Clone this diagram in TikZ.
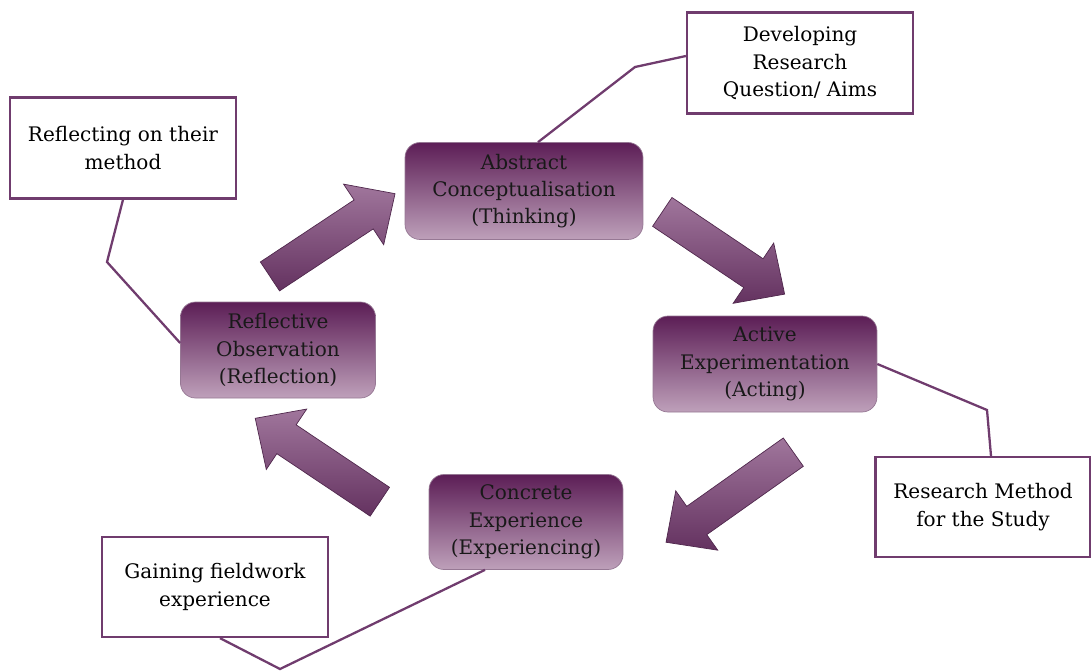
\documentclass[tikz,border=0pt]{standalone}
\usepackage{fontspec}
\setmainfont{DejaVu Serif}
\usetikzlibrary{shapes.arrows}

\definecolor{cycletop}{RGB}{92,30,86}
\definecolor{cyclebottom}{RGB}{190,160,186}
\definecolor{cycleedge}{RGB}{150,120,148}
\definecolor{linkpurple}{RGB}{112,60,110}
\definecolor{arrowdark}{RGB}{100,50,96}
\definecolor{arrowlight}{RGB}{160,118,156}

\tikzset{
  cycle/.style={draw=cycleedge, rounded corners=0.3cm, top color=cycletop, bottom color=cyclebottom,
    align=center, text=black!90, font=\fontsize{11.4}{15.5}\selectfont, inner sep=2pt},
  note/.style={draw=linkpurple, line width=1.3pt, fill=white, align=center,
    font=\fontsize{11.4}{15.5}\selectfont, minimum height=2.02cm, minimum width=4.52cm},
  link/.style={draw=linkpurple, line width=1.3pt},
  bigarrow/.style={single arrow, draw=arrowdark!80!black, line width=0.4pt, top color=arrowlight, bottom color=arrowdark,
    inner xsep=0pt, inner ysep=0.34cm, single arrow head extend=0.38cm, single arrow tip angle=88}
}

\begin{document}
\begin{tikzpicture}[x=0.02cm,y=-0.02cm]
  \useasboundingbox (0,0) rectangle (1091,670);

  % the four stages
  \node[cycle, minimum width=4.76cm, minimum height=1.94cm] (abs) at (524,191) {Abstract\\Conceptualisation\\(Thinking)};
  \node[cycle, minimum width=4.48cm, minimum height=1.92cm] (act) at (765,364) {Active\\Experimentation\\(Acting)};
  \node[cycle, minimum width=3.88cm, minimum height=1.90cm] (con) at (526,522) {Concrete\\Experience\\(Experiencing)};
  \node[cycle, minimum width=3.90cm, minimum height=1.92cm] (rfo) at (278,350) {Reflective\\Observation\\(Reflection)};

  % arrows between the stages
  \node[bigarrow, minimum height=3.0cm, rotate=33.5] (a1) at (325,240) {};
  \node[bigarrow, minimum height=2.95cm, rotate=-33.9] (a2) at (716,248) {};
  \node[bigarrow, minimum height=3.12cm, rotate=-144.7] (a3) at (737,492) {};
  \node[bigarrow, minimum height=3.0cm, rotate=146.2] (a4) at (325,465) {};

  % notes
  \node[note] (dev) at (800,63) {Developing\\Research\\Question/ Aims};
  \node[note] (rfl) at (123,148) {Reflecting on their\\method};
  \node[note, minimum width=4.30cm, minimum height=2.0cm] (res) at (983,507) {Research Method\\for the Study};
  \node[note, minimum height=2.0cm] (gain) at (215,587) {Gaining fieldwork\\experience};

  % links
  \coordinate (k1) at (635,67);
  \coordinate (k2) at (107,262);
  \coordinate (k3) at (987,410);
  \coordinate (k4) at (280,669);
  \draw[link] ([xshift=0.28cm]abs.north) -- (k1) -- ([yshift=0.14cm]dev.west);
  \draw[link] (rfl.south) -- (k2) -- ([yshift=0.14cm]rfo.west);
  \draw[link] (act.east) -- (k3) -- ([xshift=0.16cm]res.north);
  \draw[link] ([xshift=0.1cm]gain.south) -- (k4) -- ([xshift=-0.82cm]con.south);
\end{tikzpicture}
\end{document}
